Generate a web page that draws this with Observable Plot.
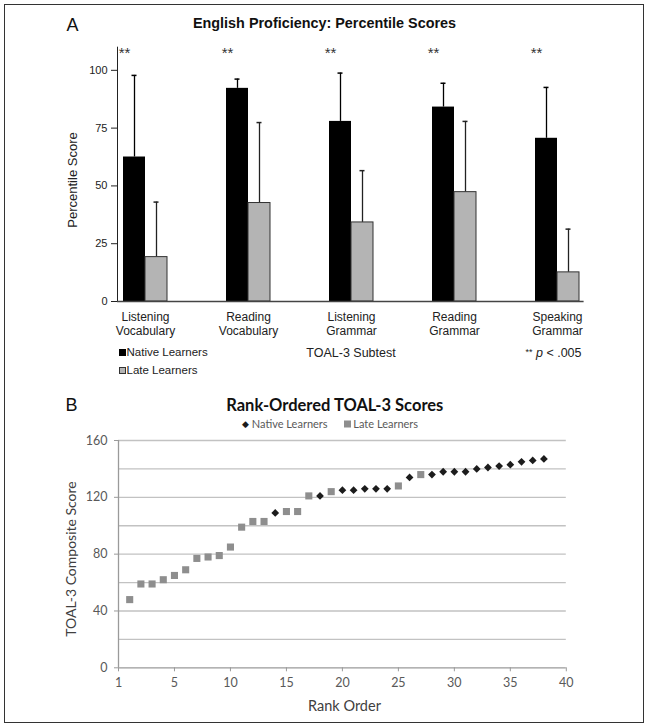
<!DOCTYPE html>
<html><head><meta charset="utf-8">
<script src="https://cdn.jsdelivr.net/npm/d3@7"></script>
<script src="https://cdn.jsdelivr.net/npm/@observablehq/plot@0.6"></script>
<style>
body{margin:0;background:#fff;}
#page{position:relative;width:649px;height:728px;overflow:hidden;background:#fff;}
#frame{position:absolute;left:4.25px;top:4.25px;width:639.8px;height:718.8px;border:1.5px solid #333;box-sizing:border-box;}
.t{position:absolute;white-space:nowrap;line-height:1;}
.svgwrap{position:absolute;left:0;}
.arial{font-family:Arial,"Liberation Sans",Helvetica,sans-serif;color:#222;}
.cal{font-family:Lato,"Open Sans",sans-serif;color:#404040;}
</style></head>
<body><div id="page"><div id="frame"></div></div>
<script>
// ---------- Panel A data ----------
const subtestTop = ["Listening", "Reading", "Listening", "Reading", "Speaking"];
const subtestBottom = ["Vocabulary", "Vocabulary", "Grammar", "Grammar", "Grammar"];
const nativeMean = [62.5, 92.2, 77.9, 84.1, 70.6];
const nativeSD   = [35.3, 4.0, 20.9, 10.3, 22.0];
const lateMean   = [19.2, 42.6, 34.2, 47.3, 12.6];
const lateSD     = [23.8, 34.8, 22.4, 30.6, 18.7];
const yTicksA = [0, 25, 50, 75, 100];
const legendA = ["Native Learners", "Late Learners"];

// ---------- Panel B data ----------
const rankScores = [48, 59, 59, 62, 65, 69, 77, 78, 79, 85, 99, 103, 103, 109, 110, 110, 121, 121, 124, 125,
                    125, 126, 126, 126, 128, 134, 136, 136, 138, 138, 138, 140, 141, 142, 143, 145, 146, 147];
const rankGroups = ["Late","Late","Late","Late","Late","Late","Late","Late","Late","Late","Late","Late","Late",
                    "Native","Late","Late","Late","Native","Late","Native","Native","Native","Native","Native",
                    "Late","Native","Late","Native","Native","Native","Native","Native","Native","Native",
                    "Native","Native","Native","Native"];
const xTickValuesB = [0, 5, 10, 15, 20, 25, 30, 35, 40];
const xTickLabelsB = ["1", "5", "10", "15", "20", "25", "30", "35", "40"];
const yTicksB = [0, 40, 80, 120, 160];
const yGridB = [20, 40, 60, 80, 100, 120, 140, 160];

const page = document.getElementById("page");
function txt(s, x, y, cls, css, anchor) {
  const d = document.createElement("div");
  d.className = "t " + cls;
  d.innerHTML = s;
  d.style.left = x + "px";
  d.style.top = y + "px";
  const tx = anchor === "end" ? "-100%" : anchor === "start" ? "0" : "-50%";
  d.style.transform = `translate(${tx},-50%)`;
  Object.assign(d.style, css || {});
  page.appendChild(d);
  return d;
}
function vtxt(s, x, y, cls, css) {
  const d = txt(s, x, y, cls, css, "middle");
  d.style.transform = "translate(-50%,-50%) rotate(-90deg)";
  return d;
}

// ---------- Panel A ----------
const keys = subtestTop.map((t, i) => t + "\n" + subtestBottom[i]);
const tableA = keys.map((k, i) => ({subtest: k, native: nativeMean[i], nsd: nativeSD[i], late: lateMean[i], lsd: lateSD[i]}));

const chartA = Plot.plot({
  width: 649, height: 345,
  marginLeft: 117, marginRight: 65.4, marginTop: 46.7, marginBottom: 44,
  style: {fontFamily: "Arial, 'Liberation Sans', sans-serif", fontSize: "11px", color: "#222", background: "transparent", overflow: "visible"},
  x: {domain: keys, paddingInner: 0.577, paddingOuter: 0.032, label: null},
  y: {domain: [0, 110], ticks: yTicksA, tickSize: 6, tickPadding: 4, label: null, line: true},
  marks: [
    Plot.ruleX(tableA, {x: "subtest", y1: "native", y2: d => d.native + d.nsd, dx: -11, stroke: "#000", strokeWidth: 1.3}),
    Plot.tickY(tableA, {x: "subtest", y: d => d.native + d.nsd, insetLeft: 8.5, insetRight: 30.5, stroke: "#000", strokeWidth: 1.5}),
    Plot.ruleX(tableA, {x: "subtest", y1: "late", y2: d => d.late + d.lsd, dx: 11, stroke: "#222", strokeWidth: 1.3}),
    Plot.tickY(tableA, {x: "subtest", y: d => d.late + d.lsd, insetLeft: 30.5, insetRight: 8.5, stroke: "#222", strokeWidth: 1.5}),
    Plot.barY(tableA, {x: "subtest", y: "native", fill: "#000", insetRight: 22}),
    Plot.barY(tableA, {x: "subtest", y: "late", fill: "#b4b4b4", stroke: "#333", strokeWidth: 1, insetLeft: 22}),
    Plot.text(tableA, {x: "subtest", y: 108.5, text: () => "**", dx: -21, dy: 3, fontSize: 15, fill: "#333"}),
    Plot.ruleY([0], {stroke: "#444", strokeWidth: 1.5}),
    Plot.axisX({tickSize: 0, tickPadding: 9, fontSize: 12, lineHeight: 1.2, fill: "#222"})
  ]
});
const wrapA = document.createElement("div");
wrapA.className = "svgwrap"; wrapA.style.top = "0px";
wrapA.appendChild(chartA);
page.appendChild(wrapA);

txt("A", 72.5, 25, "arial", {fontSize: "18px", color: "#111"});
txt("English Proficiency: Percentile Scores", 324.5, 23, "arial", {fontSize: "14.4px", fontWeight: "bold", color: "#111"});
vtxt("Percentile Score", 71.5, 180, "arial", {fontSize: "13px"});
txt("TOAL-3 Subtest", 351, 353, "arial", {fontSize: "12.5px"});
txt("<span style='font-size:9px;vertical-align:2px'>**</span> <i>p</i> &lt; .005", 581.5, 353, "arial", {fontSize: "12.5px"}, "end");
// legend A
const legY = [352.7, 370.7];
legendA.forEach((name, i) => {
  const sq = document.createElement("div");
  sq.style.position = "absolute";
  sq.style.left = "119px"; sq.style.top = (legY[i] - 3.5) + "px";
  sq.style.width = "7px"; sq.style.height = "7px"; sq.style.boxSizing = "border-box";
  sq.style.background = i === 0 ? "#000" : "#b4b4b4";
  sq.style.border = i === 0 ? "none" : "1.3px solid #333";
  page.appendChild(sq);
  txt(name, 126.5, legY[i], "arial", {fontSize: "11.5px"}, "start");
});

// ---------- Panel B ----------
const tableB = rankScores.map((s, i) => ({rank: i + 1, score: s, group: rankGroups[i]}));
const chartB = Plot.plot({
  width: 649, height: 290,
  marginLeft: 118, marginRight: 83.2, marginTop: 10, marginBottom: 52.7,
  style: {fontFamily: "Lato, 'Open Sans', sans-serif", fontSize: "12px", color: "#595959", background: "transparent", overflow: "visible"},
  x: {domain: [0, 40], label: null},
  y: {domain: [0, 160], label: null},
  marks: [
    Plot.ruleY(yGridB, {stroke: "#c2c2c2", strokeWidth: 1.3}),
    Plot.ruleY([0], {stroke: "#9a9a9a", strokeWidth: 1.3}),
    Plot.ruleX([0], {stroke: "#9a9a9a", strokeWidth: 1.3}),
    Plot.axisX({ticks: xTickValuesB, tickFormat: (d) => xTickLabelsB[xTickValuesB.indexOf(d)], tickSize: 4, tickPadding: 6, stroke: "#9a9a9a", fill: "#595959", fontSize: 12.5}),
    Plot.axisY({ticks: yTicksB, tickSize: 4, tickPadding: 7, stroke: "#9a9a9a", fill: "#595959", fontSize: 12.5}),
    Plot.dot(tableB.filter(d => d.group === "Late"), {x: "rank", y: "score", symbol: "square", r: 4, fill: "#8e8e8e"}),
    Plot.dot(tableB.filter(d => d.group === "Native"), {x: "rank", y: "score", symbol: "diamond2", r: 3.5, fill: "#1c1c1c"})
  ]
});
const wrapB = document.createElement("div");
wrapB.className = "svgwrap"; wrapB.style.top = "430px";
wrapB.appendChild(chartB);
page.appendChild(wrapB);

txt("B", 71.5, 405, "arial", {fontSize: "18px", color: "#111"});
txt("Rank-Ordered TOAL-3 Scores", 334.8, 405, "cal", {fontSize: "16.5px", fontWeight: "bold", color: "#111"});
txt("<span style='font-size:9px;color:#1c1c1c;vertical-align:1px'>&#9670;</span> Native Learners", 242, 423.3, "cal", {fontSize: "11px", color: "#595959"}, "start");
txt("<span style='display:inline-block;width:7px;height:7px;background:#8e8e8e;vertical-align:0px'></span> Late Learners", 343.5, 423.3, "cal", {fontSize: "11px", color: "#595959"}, "start");
vtxt("TOAL-3 Composite Score", 71.3, 559, "cal", {fontSize: "14px"});
txt("Rank Order", 344.5, 706, "cal", {fontSize: "14.5px"});
</script>
</body></html>
